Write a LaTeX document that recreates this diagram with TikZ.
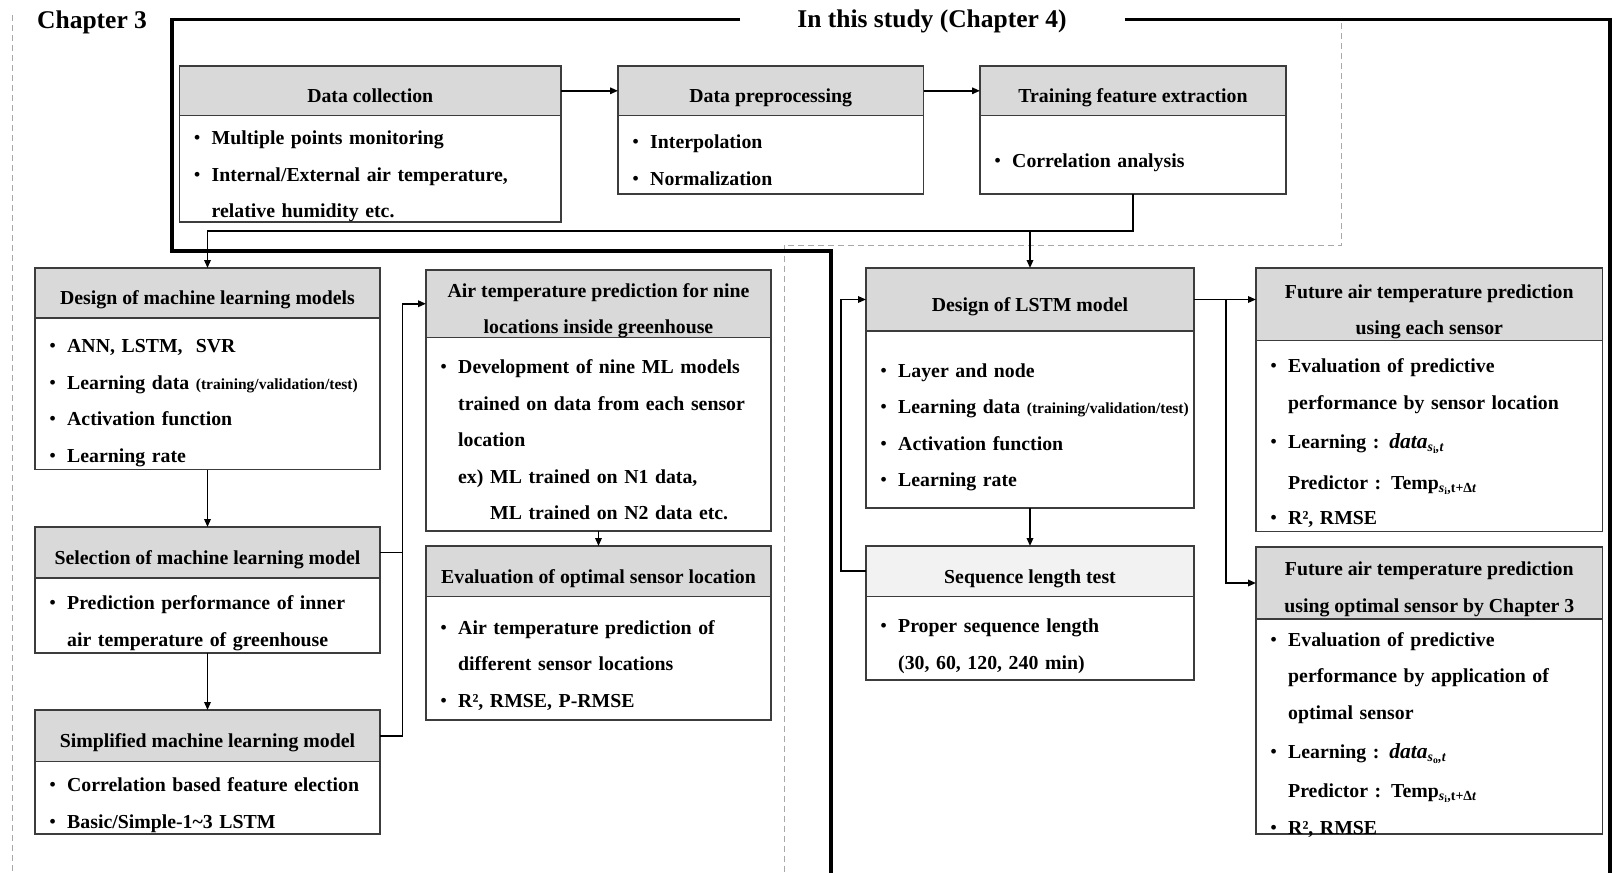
\documentclass[tikz,border=0pt]{standalone}
\usepackage{fontspec}
\setmainfont{Liberation Serif}
\usetikzlibrary{arrows.meta}

\definecolor{hdrgray}{HTML}{D9D9D9}
\definecolor{hdrlight}{HTML}{F2F2F2}
\definecolor{boxedge}{HTML}{3C3C3C}
\definecolor{guide}{HTML}{A8A8A8}

% bullet item and continuation line inside a box body
\newcommand\dotmark{\raisebox{0.6pt}{\fontsize{17.5}{17.5}\selectfont\textbullet}}
\newcommand\itm[1]{\makebox[17.5pt][l]{\dotmark}#1}
\newcommand\cnt[1]{\hspace*{17.5pt}#1}
\newcommand\smallnote[1]{{\fontsize{15.5}{15.5}\selectfont #1}}
\newcommand\rsq{R²}
\newcommand\mvar[1]{{\fontsize{21.5}{21.5}\selectfont\textit{#1}}}

% \flowbox[text shift]{name}{x1}{y1}{x2}{y2}{header bottom}{header fill}{header text}
\newcommand\flowbox[9][4.5]{%
  \node[boxbody, minimum width={(#5-#3)*1pt}, minimum height={(#6-#4)*1pt}]
    (#2) at ({(#3+#5)/2},{(#4+#6)/2}) {};
  \node[boxhead, fill=#8, minimum width={(#5-#3)*1pt}, minimum height={(#7-#4)*1pt}]
    (#2h) at ({(#3+#5)/2},{(#4+#7)/2}) {};
  \node[headtext, yshift=-#1pt] (#2t) at (#2h.center) {\strut#9\strut};
}

\begin{document}
\begin{tikzpicture}[x=1pt, y=-1pt,
  boxbody/.style={draw=boxedge, line width=1.2pt, fill=white, inner sep=0pt, outer sep=0pt},
  boxhead/.style={draw=boxedge, line width=1.2pt, inner sep=0pt, outer sep=0pt},
  headtext/.style={align=center, inner sep=0pt, font=\bfseries\fontsize{19.8}{36.5}\selectfont},
  bodytext/.style={anchor=base west, align=left, text width=400pt, inner sep=0pt,
    font=\bfseries\fontsize{19.8}{36.5}\selectfont},
  titletext/.style={inner sep=0pt, font=\bfseries\fontsize{25.5}{30}\selectfont},
  conn/.style={line width=1.7pt, black},
  arr/.style={conn, -{Triangle[length=8pt, width=6.5pt]}},
  frame/.style={line width=3.4pt, black},
  guideline/.style={draw=guide, line width=1pt, dash pattern=on 6pt off 4pt}
]
\useasboundingbox (0,0) rectangle (1618,873);

% dashed outline of the Chapter 3 part
\draw[guideline] (12.4,15) -- (12.4,873);
\draw[guideline] (1341.5,23) -- (1341.5,245.6) -- (784,245.6) -- (784,873);

% heavy outline of the Chapter 4 part
\draw[frame] (740,19.6) -- (172,19.6) -- (172,251) -- (831,251) -- (831,873);
\draw[frame] (1125,19.6) -- (1610,19.6) -- (1610,873);

\node[titletext, anchor=base west] (ch3) at (37,28.5) {Chapter 3};
\node[titletext, anchor=base] (ch4) at (932,27) {In this study (Chapter 4)};

% boxes
\flowbox{dc}{179.5}{66}{561}{222}{115.6}{hdrgray}{Data collection}
\flowbox{dp}{618}{66}{923.5}{194}{115.6}{hdrgray}{Data preprocessing}
\flowbox{tfe}{980}{66}{1286}{194}{115.6}{hdrgray}{Training feature extraction}
\flowbox{dml}{35}{268}{380}{469.5}{318}{hdrgray}{Design of machine learning models}
\flowbox{sml}{35}{527}{380}{653}{578}{hdrgray}{Selection of machine learning model}
\flowbox{sim}{35}{710}{380}{834}{761.5}{hdrgray}{Simplified machine learning model}
\flowbox[4.5]{atp}{426}{270}{771}{531}{337.5}{hdrgray}{Air temperature prediction for nine\\locations inside greenhouse}
\flowbox{eos}{426}{546}{771}{720}{596.5}{hdrgray}{Evaluation of optimal sensor location}
\flowbox{lstm}{866}{268}{1194}{508}{331}{hdrgray}{Design of LSTM model}
\flowbox{seq}{866}{546}{1194}{680}{596.5}{hdrlight}{Sequence length test}
\flowbox[5]{fa1}{1256}{268}{1602.5}{531.5}{340.5}{hdrgray}{Future air temperature prediction\\using each sensor}
\flowbox[3.5]{fa2}{1256}{547}{1602.5}{834}{619}{hdrgray}{Future air temperature prediction\\using optimal sensor by Chapter 3}

% box contents
\node[bodytext] (dc-b) at (194,144.5) {\itm{Multiple points monitoring}\\
  \itm{Internal/External air temperature,}\\
  \cnt{relative humidity etc.}};
\node[bodytext] (dp-b) at (632.5,148.5) {\itm{Interpolation}\\
  \itm{Normalization}};
\node[bodytext] (tfe-b) at (994.5,167.5) {\itm{Correlation analysis}};
\node[bodytext] (dml-b) at (49.5,352.5) {\itm{ANN, LSTM,~ SVR}\\
  \itm{Learning data \smallnote{(training/validation/test)}}\\
  \itm{Activation function}\\
  \itm{Learning rate}};
\node[bodytext] (sml-b) at (49.5,609.5) {\itm{Prediction performance of inner}\\
  \cnt{air temperature of greenhouse}};
\node[bodytext] (sim-b) at (49.5,791.5) {\itm{Correlation based feature election}\\
  \itm{Basic/Simple-1\textasciitilde3 LSTM}};
\node[bodytext] (atp-b) at (440.5,373.5) {\itm{Development of nine ML models}\\
  \cnt{trained on data from each sensor}\\
  \cnt{location}\\
  \cnt{ex) ML trained on N1 data,}\\
  \cnt{\phantom{ex) }ML trained on N2 data etc.}};
\node[bodytext] (eos-b) at (440.5,634) {\itm{Air temperature prediction of}\\
  \cnt{different sensor locations}\\
  \itm{\rsq, RMSE, P-RMSE}};
\node[bodytext] (lstm-b) at (880.5,377) {\itm{Layer and node}\\
  \itm{Learning data \smallnote{(training/validation/test)}}\\
  \itm{Activation function}\\
  \itm{Learning rate}};
\node[bodytext] (seq-b) at (880.5,632.5) {\itm{Proper sequence length}\\
  \cnt{(30, 60, 120, 240 min)}};
\node[bodytext] (fa1-b) at (1270.5,372.5) {\itm{Evaluation of predictive}\\
  \cnt{performance by sensor location}\\[2.5pt]
  \itm{Learning : \mvar{data}\textsubscript{\textit{s}\textsubscript{i}\textit{,t}}}\\[5pt]
  \cnt{Predictor : Temp\textsubscript{\textit{s}\textsubscript{i},t+Δ\textit{t}}}\\[-1.5pt]
  \itm{\rsq, RMSE}};
\node[bodytext] (fa2-b) at (1270.5,646) {\itm{Evaluation of predictive}\\
  \cnt{performance by application of}\\
  \cnt{optimal sensor}\\[2.5pt]
  \itm{Learning : \mvar{data}\textsubscript{\textit{s}\textsubscript{o}\textit{,t}}}\\[3pt]
  \cnt{Predictor : Temp\textsubscript{\textit{s}\textsubscript{i},t+Δ\textit{t}}}\\
  \itm{\rsq, RMSE}};

% connectors
\coordinate (bus) at (0,231);
\coordinate (riser) at (402.5,0);
\coordinate (loop) at (841,0);
\coordinate (branch) at (1226,0);

\draw[arr] (dch.east) -- (dph.west);
\draw[arr] (dph.east) -- (tfeh.west);
\draw[arr] (tfe.south) |- (dml.north |- bus) -- (dml.north);
\draw[arr] (lstm.north |- bus) -- (lstm.north);
\draw[arr] (dml.south) -- (sml.north);
\draw[arr] (sml.south) -- (sim.north);
\draw[arr] (smlh.east) -| (riser |- atph.west) -- (atph.west);
\draw[conn] (simh.east) -| (riser |- smlh.east);
\draw[arr] (atp.south) -- (eos.north);
\draw[arr] (lstm.south) -- (seq.north);
\draw[arr] (seqh.west) -| (loop |- lstmh.west) -- (lstmh.west);
\draw[arr] (lstmh.east) -- (lstmh.east -| fa1.west);
\draw[arr] (branch |- lstmh.east) |- (fa2h.west);
\end{tikzpicture}
\end{document}
